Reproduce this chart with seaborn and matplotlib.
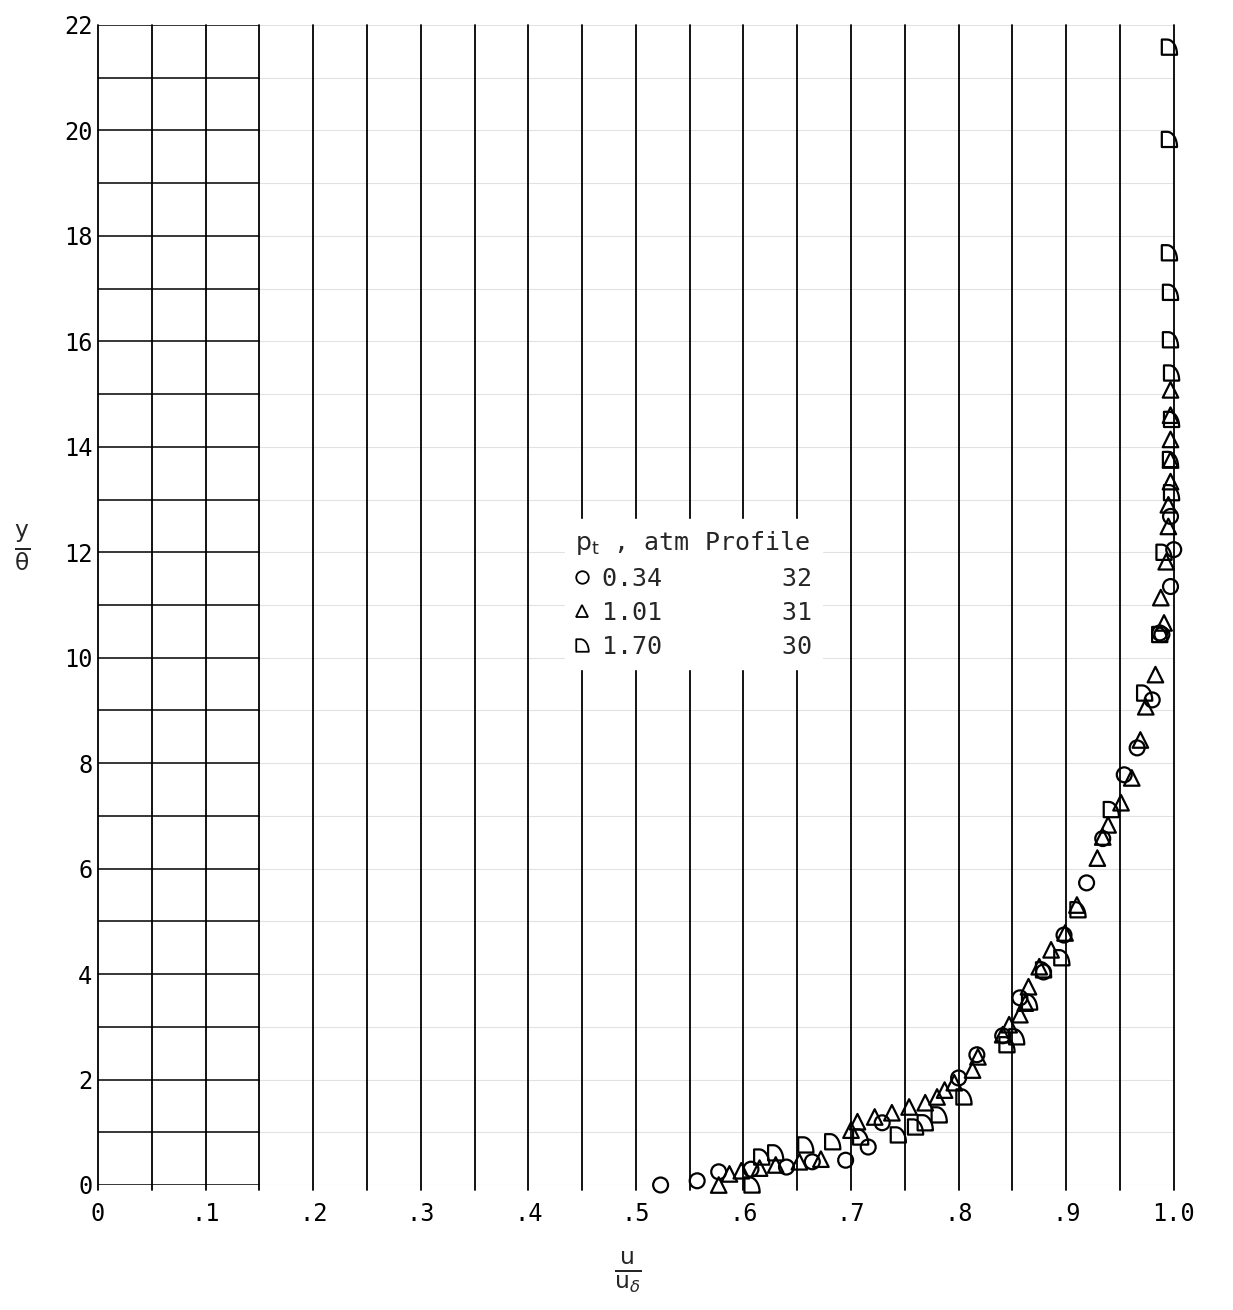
import numpy as np
import pandas as pd
import matplotlib
matplotlib.use("Agg")
import matplotlib.pyplot as plt
from matplotlib.path import Path
from matplotlib.lines import Line2D
import seaborn as sns

# ---- data ----
circ_u = [0.523, 0.557, 0.577, 0.607, 0.640, 0.664, 0.695, 0.716, 0.729, 0.800,
          0.817, 0.841, 0.857, 0.879, 0.898, 0.919, 0.934, 0.954, 0.966, 0.980,
          0.989, 0.987, 0.997, 1.000, 0.997]
circ_y = [0.00, 0.08, 0.25, 0.30, 0.34, 0.44, 0.47, 0.72, 1.18, 2.03,
          2.47, 2.83, 3.55, 4.04, 4.74, 5.73, 6.57, 7.78, 8.29, 9.20,
          10.44, 10.47, 11.35, 12.05, 12.68]

tri_u = [0.577, 0.587, 0.598, 0.615, 0.630, 0.652, 0.672, 0.700, 0.706, 0.722,
         0.738, 0.754, 0.769, 0.780, 0.787, 0.796, 0.813, 0.818, 0.841, 0.847,
         0.857, 0.862, 0.865, 0.875, 0.886, 0.899, 0.910, 0.929, 0.934, 0.939,
         0.951, 0.961, 0.969, 0.974, 0.983, 0.991, 0.988, 0.993, 0.995, 0.995,
         0.997, 0.997, 0.997, 0.997, 0.997]
tri_y = [0.00, 0.21, 0.27, 0.32, 0.38, 0.44, 0.49, 1.04, 1.20, 1.29,
         1.37, 1.48, 1.56, 1.67, 1.80, 1.94, 2.18, 2.43, 2.85, 3.04,
         3.23, 3.45, 3.76, 4.14, 4.46, 4.78, 5.31, 6.20, 6.60, 6.83,
         7.25, 7.72, 8.44, 9.07, 9.68, 10.66, 11.14, 11.82, 12.49, 12.90,
         13.34, 13.75, 14.14, 14.60, 15.08]

dee_u = [0.608, 0.617, 0.630, 0.658, 0.683, 0.709, 0.744, 0.760, 0.769, 0.782,
         0.805, 0.845, 0.854, 0.866, 0.879, 0.896, 0.911, 0.942, 0.973, 0.987,
         0.991, 0.998, 0.997, 0.998, 0.998, 0.997, 0.997, 0.996, 0.996, 0.996]
dee_y = [0.00, 0.53, 0.61, 0.76, 0.82, 0.91, 0.95, 1.10, 1.18, 1.33,
         1.67, 2.66, 2.81, 3.47, 4.08, 4.31, 5.22, 7.12, 9.33, 10.44,
         12.00, 13.13, 13.76, 14.52, 15.40, 16.03, 16.93, 17.68, 19.83, 21.58]

pt_labels = ["0.34", "1.01", "1.70"]
profile_labels = ["32", "31", "30"]

x_ticks = [0, 0.1, 0.2, 0.3, 0.4, 0.5, 0.6, 0.7, 0.8, 0.9, 1.0]
x_ticklabels = ["0", ".1", ".2", ".3", ".4", ".5", ".6", ".7", ".8", ".9", "1.0"]
y_ticks = [0, 2, 4, 6, 8, 10, 12, 14, 16, 18, 20, 22]

# ---- D-shaped marker (flat left & bottom, curved upper right) ----
t = np.linspace(np.pi / 2, 0, 20)
arc = np.column_stack([-0.3 + 1.3 * np.cos(t), -1 + 2 * np.sin(t)])
dverts = np.vstack([[[-1, -1], [-1, 1], [-0.3, 1]], arc, [[-1, -1]]])
dcodes = [Path.MOVETO] + [Path.LINETO] * (len(dverts) - 2) + [Path.CLOSEPOLY]
dee_marker = Path(dverts, dcodes)

sns.set_theme(style="white")
plt.rcParams["font.family"] = ["DejaVu Sans Mono", "DejaVu Sans"]
plt.rcParams["mathtext.fontset"] = "dejavusans"

fig = plt.figure(figsize=(12.33, 13.10), dpi=100)
ax = fig.add_axes([98 / 1233, 1 - 1185 / 1310, (1206 - 98) / 1233, 1160 / 1310])

xmax = 1.03
ax.set_xlim(0, xmax)
ax.set_ylim(0, 22)

# grid: vertical lines every 0.05
for xv in np.arange(0, 1.0001, 0.05):
    ax.plot([xv, xv], [-0.1, 22], color="black", lw=1.3, zorder=1, clip_on=False)
# horizontal lines every 1
for yv in range(0, 23):
    ax.plot([0, 0.15], [yv, yv], color="black", lw=1.1, zorder=1)
    ax.plot([0.15, 1.0], [yv, yv], color="#e2e2e2", lw=0.8, zorder=0.5)

series = [
    (circ_u, circ_y, "o", 115),
    (tri_u, tri_y, "^", 125),
    (dee_u, dee_y, dee_marker, 120),
]
for u, yv, mk, s in series:
    df = pd.DataFrame({"u": u, "y": yv})
    sns.scatterplot(data=df, x="u", y="y", marker=mk, s=s, facecolors="none",
                    edgecolors="black", linewidths=1.6, ax=ax, zorder=3,
                    clip_on=False, legend=False)

for sp in ax.spines.values():
    sp.set_visible(False)

ax.set_xticks(x_ticks)
ax.set_xticklabels(x_ticklabels)
ax.set_yticks(y_ticks)
ax.set_yticklabels([str(v) for v in y_ticks])
ax.tick_params(axis="both", length=0, labelsize=17, colors="black")
ax.tick_params(axis="x", pad=12)
ax.tick_params(axis="y", pad=4)
ax.set_xlabel("")
ax.set_ylabel("")

fig.text(22 / 1233, 1 - 548 / 1310, r"$\frac{\mathrm{y}}{\mathrm{\theta}}$",
         fontsize=24, ha="center", va="center")
fig.text(628 / 1233, 1 - 1272 / 1310, r"$\frac{\mathrm{u}}{\mathrm{u}_\delta}$",
         fontsize=24, ha="center", va="center")

# legend
handles = [
    Line2D([], [], ls="none", marker="o", mfc="none", mec="black", mew=1.3, ms=9),
    Line2D([], [], ls="none", marker="^", mfc="none", mec="black", mew=1.3, ms=9),
    Line2D([], [], ls="none", marker=dee_marker, mfc="none", mec="black", mew=1.3, ms=9),
]
labels = [f"{a}        {b}" for a, b in zip(pt_labels, profile_labels)]
leg = ax.legend(handles, labels, title=r"$\mathrm{p}_\mathrm{t}$ , atm Profile",
                loc="upper left", bbox_to_anchor=(0.41, 0.585),
                prop={"family": "DejaVu Sans Mono", "size": 18},
                title_fontproperties={"family": "DejaVu Sans Mono", "size": 18},
                alignment="left", frameon=True, facecolor="white",
                edgecolor="white", framealpha=1.0, handlelength=0.6,
                handletextpad=0.5, labelspacing=0.4, borderpad=0.4,
                fancybox=False)
leg.set_zorder(5)

fig.savefig("out.png", dpi=100)
